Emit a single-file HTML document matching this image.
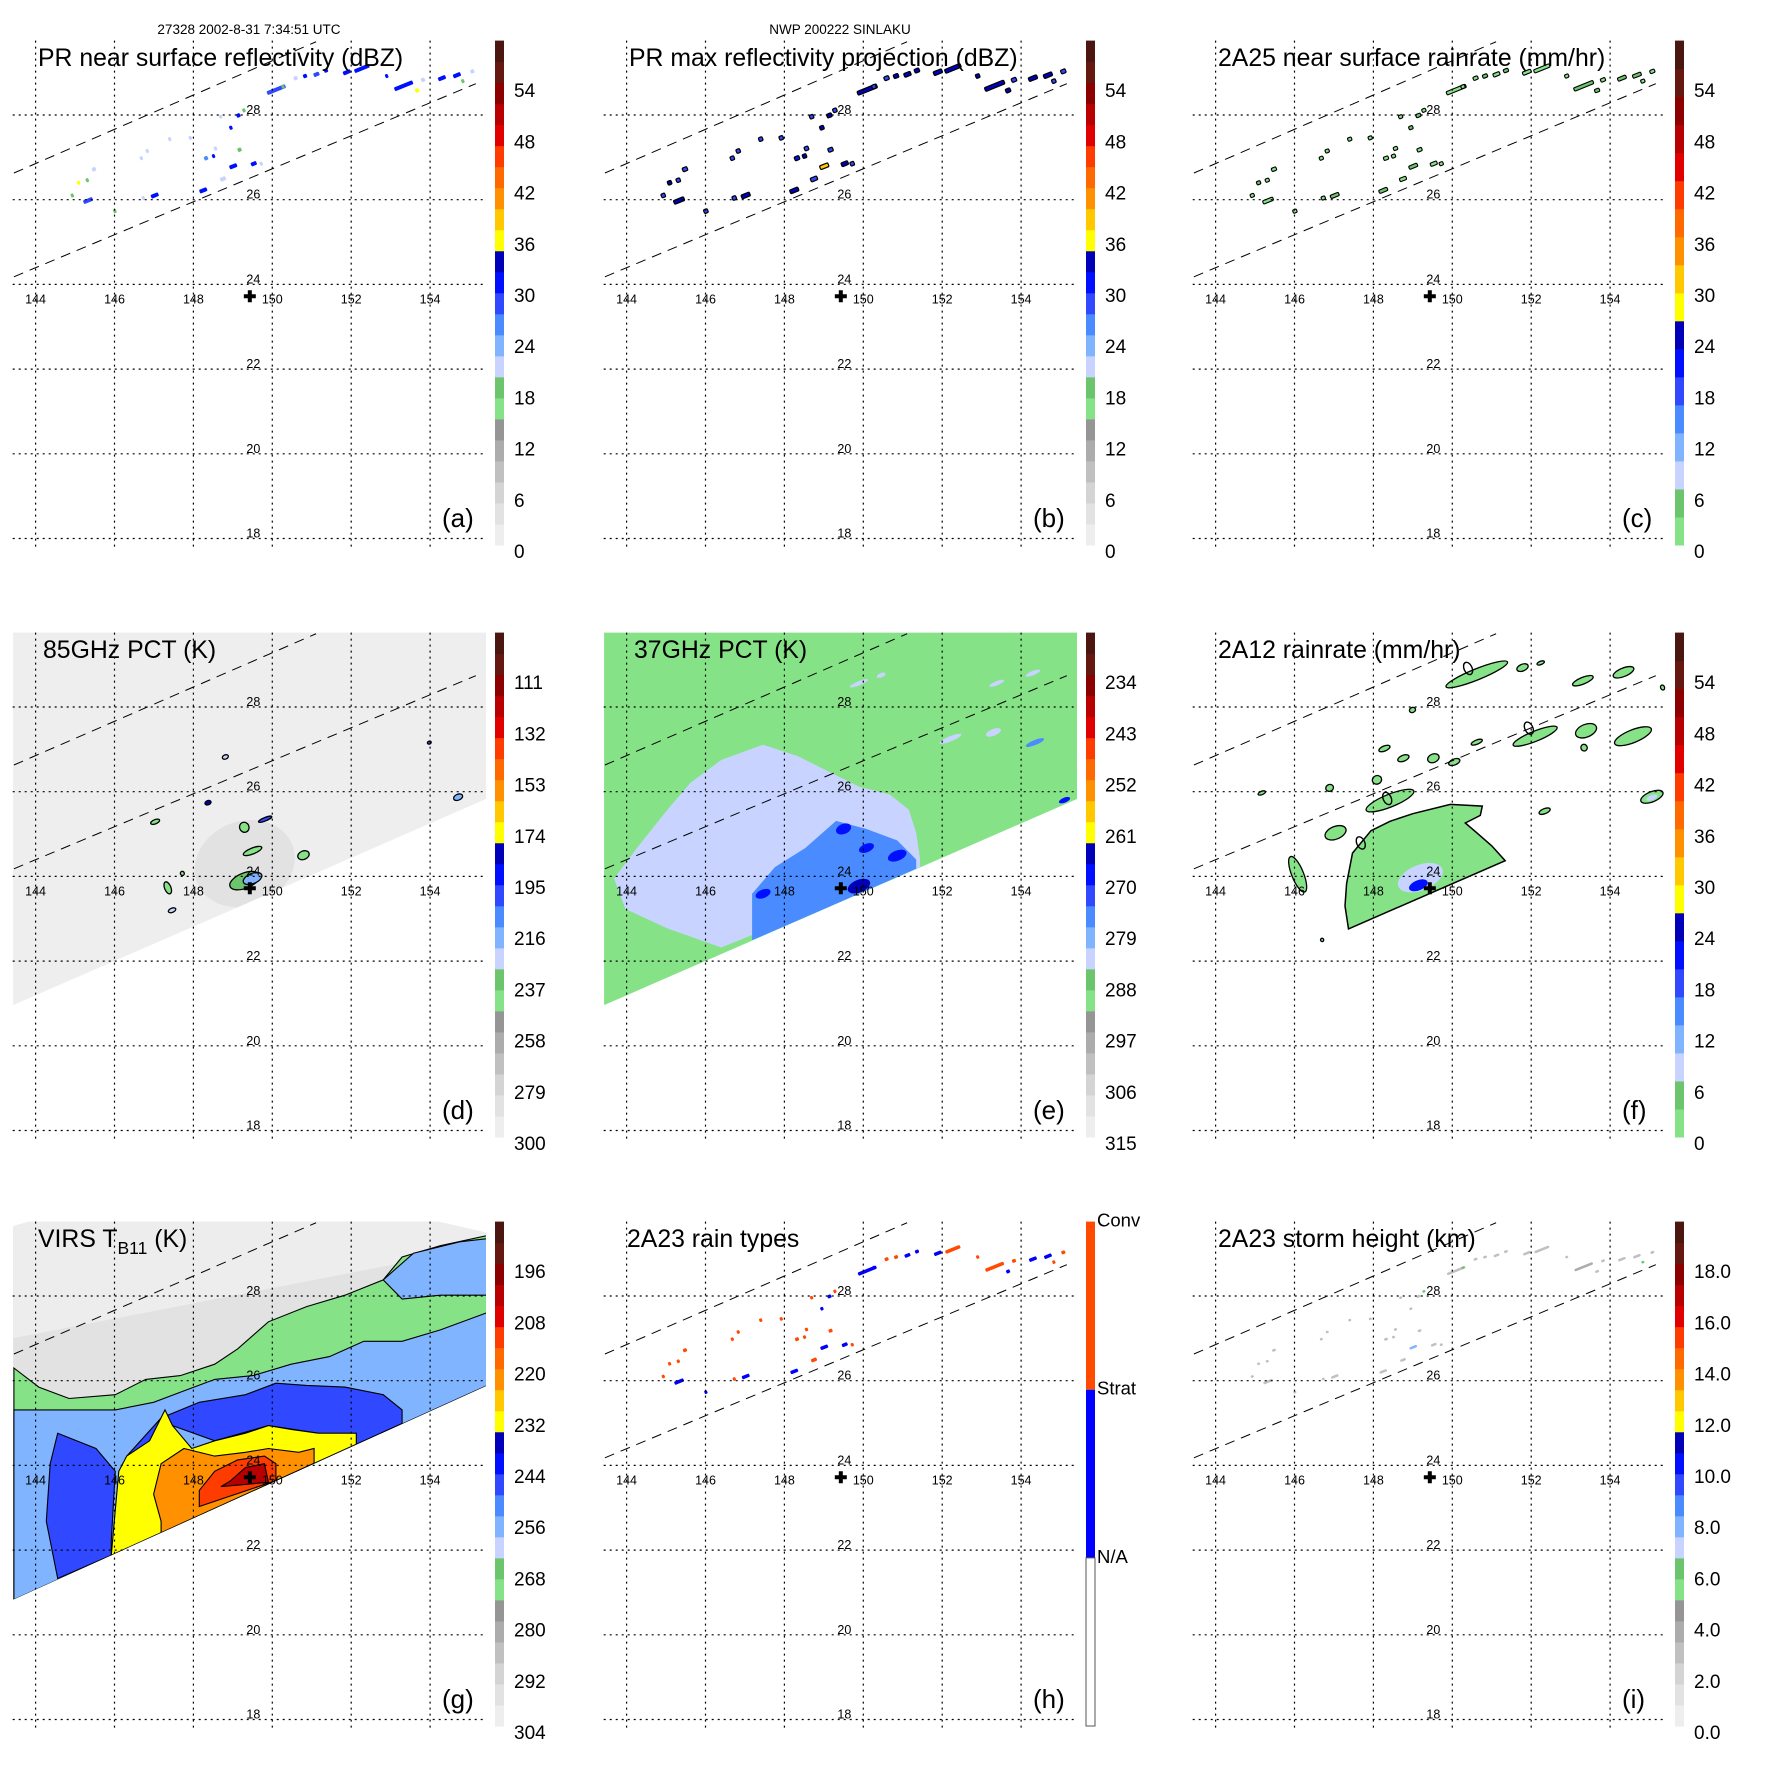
<!DOCTYPE html>
<html><head><meta charset="utf-8">
<style>
html,body{margin:0;padding:0;background:#fff;}
svg{display:block;font-family:"Liberation Sans",Arial,sans-serif;}
</style></head>
<body>
<svg id="fig" width="1771" height="1771" viewBox="0 0 1771 1771" xmlns="http://www.w3.org/2000/svg"></svg>
<script>
// ---------------- DATA ----------------
const lonTicks = [144,146,148,150,152,154];
const latTicks = [18,20,22,24,26,28];
const stormLon = 149.43, stormLat = 23.72;
const swathEdgeLines = [[143.45,26.63,151.11,29.73],[143.45,24.18,155.16,28.74]];
const cellLon = [145.33,145.09,144.93,145.48,145.31,146.01,147.02,146.73,146.83,146.68,147.40,147.92,148.25,148.32,148.56,148.51,148.75,149.01,149.17,148.95,149.14,148.69,149.28,149.53,149.72,150.10,150.27,150.59,150.83,151.12,151.36,151.89,152.27,152.90,153.33,153.67,153.82,154.30,154.68,154.83,155.07];
const cellLat = [25.98,26.40,26.10,26.72,26.46,25.73,26.10,26.04,27.15,26.98,27.43,27.46,26.22,26.98,27.21,27.03,26.49,26.79,27.18,27.70,27.99,27.96,28.11,26.85,26.85,28.60,28.67,28.87,28.92,28.96,29.05,29.01,29.10,28.92,28.69,28.58,28.83,28.87,28.94,28.80,29.03];
const cellLen = [.25,.05,.03,.1,.03,.03,.2,.05,.05,.03,.03,.05,.2,.1,.08,.05,.15,.2,.1,.08,.1,.05,.05,.15,.05,.5,.05,.1,.1,.15,.1,.2,.4,.05,.5,.1,.1,.2,.2,.05,.1];
const nearSurfDbz = [28,36,18,22,18,18,30,22,22,22,22,22,30,26,22,30,22,32,18,30,30,22,18,30,22,28,18,22,30,28,30,30,30,30,30,36,22,30,30,18,22];
const maxDbz = [33,34,28,28,28,28,33,28,28,28,28,28,33,32,28,33,28,38,28,33,33,28,28,33,28,33,28,28,33,33,33,33,33,33,34,33,28,33,33,28,28];
const rainRate = [3,6,1,1,1,1,4,1,1,1,1,1,4,2,1,3,1,5,1,4,4,1,1,3,1,3,1,1,4,3,4,3,3,3,4,6,1,4,4,1,1];
const rainType = ['S','C','C','C','C','S','S','C','C','C','C','C','S','C','C','C','C','S','C','S','S','C','C','S','C','S','S','C','C','S','S','S','C','C','C','S','C','S','S','C','C'];
const stormHeightKm = [3.0,3.0,2.5,2.5,2.5,2.5,3.0,2.5,2.5,2.5,2.5,2.5,3.0,3.0,2.5,3.0,2.5,7.5,2.5,3.0,3.0,2.5,6.0,3.0,2.5,3.0,6.0,2.5,3.0,3.0,2.5,3.0,3.0,3.0,3.5,3.0,2.5,3.0,3.0,6.0,2.5];
const ticksA = ['0','6','12','18','24','30','36','42','48','54'];
const ticksB = ticksA, ticksC = ticksA, ticksF = ticksA;
const ticksD = ['300','279','258','237','216','195','174','153','132','111'];
const ticksE = ['315','306','297','288','279','270','261','252','243','234'];
const ticksG = ['304','292','280','268','256','244','232','220','208','196'];
const ticksI = ['0.0','2.0','4.0','6.0','8.0','10.0','12.0','14.0','16.0','18.0'];
const swathDE = [[143.43,29.8],[155.6,29.8],[155.6,25.9],[143.43,20.96]];
const swathG = [[143.43,29.65],[144.0,29.8],[154.0,29.8],[155.6,29.46],[155.6,25.95],[143.43,20.83]];
const dBgK = 294;
const dBlobLon = [149.3,147.03,148.81,148.37,149.29,149.82,149.5,150.79,153.98,154.71,147.35,147.46,147.72,149.3,149.5];
const dBlobLat = [24.3,25.29,26.82,25.74,25.16,25.35,24.6,24.5,27.16,25.87,23.73,23.2,24.07,23.9,23.95];
const dBlobHL = [1.3,.12,.08,.08,.12,.18,.25,.15,.05,.12,.08,.1,.05,.4,.25];
const dBlobHH = [1.0,.05,.05,.05,.12,.04,.07,.1,.03,.07,.15,.05,.05,.18,.12];
const dBlobK = [285,240,230,180,240,200,240,240,200,215,240,225,245,235,215];
const eBgK = 289;
const eLightK = 282;
const eLightPoly = [[146.40,22.32],[145.04,22.77],[143.97,23.23],[143.68,23.95],[144.26,24.67],[145.04,25.58],[145.62,26.21],[146.40,26.75],[147.46,27.11],[148.34,26.84],[149.11,26.48],[149.89,26.12],[150.66,25.94],[151.15,25.58],[151.34,25.03],[151.44,24.40],[151.44,24.22]];
const eBlueK = 276;
const eBluePoly = [[147.18,23.59],[147.76,24.22],[148.53,24.67],[149.31,25.31],[150.08,25.12],[150.86,24.85],[151.34,24.40],[151.34,24.18],[147.18,22.49]];
const eSpotLon = [149.50,149.89,150.86,147.46,150.08,149.89,150.45,153.38,154.3,152.21,153.3,154.35,155.1];
const eSpotLat = [25.12,23.77,24.49,23.59,24.67,28.56,28.75,28.56,28.8,27.25,27.4,27.16,25.8];
const eSpotHL = [.2,.3,.25,.2,.2,.25,.12,.2,.2,.3,.2,.25,.15];
const eSpotHH = [.12,.15,.12,.1,.1,.05,.05,.05,.05,.06,.08,.06,.06];
const eSpotK = [268,266,268,270,270,282,282,282,282,282,282,277,268];
const fMainPoly = [[147.37,22.76],[147.28,23.30],[147.32,23.83],[147.47,24.55],[147.94,25.08],[148.42,25.30],[149.0,25.48],[149.95,25.70],[150.76,25.66],[150.71,25.44],[150.33,25.26],[150.62,25.03],[151.0,24.72],[151.34,24.37]];
const fMainRate = 3;
const fBlobLon = [150.62,151.78,152.24,153.31,154.34,155.33,152.10,153.39,154.58,153.34,150.62,149.52,150.05,148.76,148.28,148.09,146.89,148.42,147.04,146.08,155.06,152.34,145.17,148.99,146.7,149.19,149.14,155.06];
const fBlobLat = [28.77,28.93,29.04,28.62,28.82,28.46,27.31,27.44,27.31,27.04,27.17,26.79,26.70,26.79,27.02,26.28,26.09,25.79,25.03,24.05,25.88,25.54,25.97,27.93,22.5,23.97,23.79,25.86];
const fBlobHL = [.84,.15,.1,.28,.28,.05,.6,.28,.5,.08,.15,.15,.15,.15,.15,.12,.1,.65,.28,.15,.3,.15,.1,.08,.04,.6,.25,.15];
const fBlobHH = [.13,.08,.04,.08,.1,.06,.12,.15,.15,.08,.05,.1,.07,.07,.06,.1,.08,.15,.15,.45,.12,.06,.04,.06,.04,.3,.12,.06];
const fBlobRate = [3,3,3,3,3,3,3,3,3,3,3,3,3,3,3,3,3,3,3,3,3,3,3,3,3,10,22,10];
const fOvalLon = [150.40,151.94,148.35,147.68];
const fOvalLat = [28.91,27.50,25.84,24.79];
const gBgK = 295;
const gLayerK = [270,258,258,246,246,232,222,212,202];
const gLayerPts = [
 [[143.45,26.30],[144.08,25.85],[144.85,25.58],[146.02,25.67],[146.79,26.03],[147.67,26.12],[148.54,26.39],[149.12,26.75],[149.90,27.39],[150.87,27.75],[151.84,28.02],[152.81,28.38],[153.29,28.92],[154.26,29.19],[155.6,29.46],[155.6,25.95],[143.45,20.83]],
 [[143.45,25.31],[144.27,25.31],[146.02,25.31],[146.99,25.49],[147.76,25.76],[148.54,26.03],[149.51,26.12],[150.48,26.39],[151.45,26.57],[152.32,26.93],[153.29,26.93],[154.26,27.20],[155.6,27.66],[155.6,25.95],[143.45,20.83]],
 [[152.81,28.38],[153.58,29.01],[154.75,29.28],[155.6,29.37],[155.6,28.02],[154.26,28.02],[153.29,27.93]],
 [[144.56,24.76],[145.53,24.40],[146.02,23.86],[145.92,22.23],[145.92,21.88],[144.56,21.33],[144.27,22.68],[144.37,24.04]],
 [[146.31,24.22],[147.18,25.12],[148.15,25.49],[149.32,25.67],[150.09,25.94],[150.87,25.89],[151.84,25.85],[152.81,25.67],[153.29,25.31],[153.29,24.99],[152.13,24.50],[151.16,24.76],[149.90,24.94],[148.54,24.58],[147.47,24.94],[146.79,24.22],[146.31,23.86]],
 [[145.92,21.88],[146.02,22.95],[146.11,23.86],[146.31,24.22],[146.89,24.58],[147.28,25.31],[147.47,24.94],[147.96,24.40],[148.54,24.58],[149.32,24.76],[149.90,24.94],[150.48,24.85],[151.16,24.76],[152.13,24.76],[152.13,24.50]],
 [[147.18,22.41],[147.18,22.68],[146.99,23.32],[147.18,24.04],[147.76,24.40],[148.54,24.22],[149.32,24.31],[149.90,24.40],[150.67,24.31],[151.06,24.40],[151.06,24.05]],
 [[148.15,23.03],[148.15,23.41],[148.54,23.86],[149.12,24.13],[149.80,24.22],[150.09,24.04],[150.09,23.64]],
 [[148.70,23.50],[148.93,23.63],[149.32,23.95],[149.80,24.04],[149.90,23.60]]
];

// ---------------- HELPERS ----------------
const NS = 'http://www.w3.org/2000/svg';
const svg = document.getElementById('fig');
const X = lon => 35.6 + (lon-144)*39.45;
const Y = lat => 115 + (28-lat)*42.35;
const PX0 = 12.7, PX1 = 486, PY0 = 40.6, PY1 = 550;
const bandsA = [['#eeeeee','#e2e2e2'],['#d4d4d4','#c0c0c0'],['#acacac','#959595'],['#86e286','#6cc46c'],['#c8d4ff','#80b4ff'],['#4a8cff','#3048ff'],['#0010ff','#0000b8'],['#ffff00','#ffc800'],['#ff9000','#ff6a00'],['#ff3c00','#e00000'],['#b80000','#8c0000'],['#641810','#4b1510']];
const bandsC = [['#86e286','#6cc46c'],['#c8d4ff','#80b4ff'],['#4a8cff','#3048ff'],['#0010ff','#0000b8'],['#ffff00','#ffc800'],['#ff9000','#ff6a00'],['#ff3c00','#e00000'],['#b80000','#8c0000'],['#641810','#4b1510']];
function colorFrom(bands, v){
  const w = 60/bands.length;
  let b = Math.floor(v/w); b = Math.max(0, Math.min(bands.length-1, b));
  const s = ((v - b*w) >= w/2) ? 1 : 0;
  return bands[b][s];
}
const cA = v => colorFrom(bandsA, v);
const cC = v => colorFrom(bandsC, v);
const kD = K => (300-K)*54/189;
const kE = K => (315-K)*54/81;
const kG = K => (304-K)*54/108;
function el(tag, attrs, parent){
  const e = document.createElementNS(NS, tag);
  for (const k in attrs) e.setAttribute(k, attrs[k]);
  (parent||svg).appendChild(e); return e;
}
function polyPath(pts){ return 'M' + pts.map(p => X(p[0]).toFixed(1)+','+Y(p[1]).toFixed(1)).join('L') + 'Z'; }
function blob(g, lon, lat, hl, hh, fill, stroke, name){
  const e = el('ellipse', {cx:X(lon), cy:Y(lat), rx:Math.max(hl*39.45,1.5), ry:Math.max(hh*42.35,1.5), fill:fill, stroke:stroke||'none', 'stroke-width':1.3, transform:`rotate(-22 ${X(lon)} ${Y(lat)})`}, g);
  
  
  return e;
}

const colOff = [0, 591, 1180], rowOff = [0, 592, 1181];
let clipId = 0;

function makePanel(col, row, key, title, letter, ticks, bandsType){
  const g = el('g', {transform:`translate(${colOff[col]},${rowOff[row]})`});
  
  
  const cid = 'clip' + (clipId++);
  const cp = el('clipPath', {id:cid}, g);
  el('rect', {x:PX0, y:PY0, width:PX1-PX0, height:PY1-PY0}, cp);
  const data = el('g', {'clip-path':`url(#${cid})`}, g);
  
  
  const over = el('g', {'clip-path':`url(#${cid})`}, g);
  return {g, data, over, key, title, letter, ticks, bandsType};
}

function finishPanel(P, opts){
  const {g, over} = P;
  opts = opts || {};
  if (!opts.noDash){
    const dl = el('g', {}, over);
    
    
    swathEdgeLines.forEach(l => {
      el('line', {x1:X(l[0]), y1:Y(l[1]), x2:X(l[2]), y2:Y(l[3]), stroke:'#000', 'stroke-width':1, 'stroke-dasharray':'10,7'}, dl);
    });
  }
  const grid = el('g', {}, g);
  
  
  lonTicks.forEach(lon => el('line', {x1:X(lon), y1:PY0, x2:X(lon), y2:PY1, stroke:'#000', 'stroke-width':1.2, 'stroke-dasharray':'2,4'}, grid));
  latTicks.forEach(lat => el('line', {x1:PX0, y1:Y(lat), x2:PX1, y2:Y(lat), stroke:'#000', 'stroke-width':1.2, 'stroke-dasharray':'2,4'}, grid));
  latTicks.forEach(lat => {
    const t = el('text', {x:X(150)-12, y:Y(lat)-1, 'font-size':12.5, 'text-anchor':'end', fill:'#000'}, grid);
    t.textContent = String(lat);
    
    
  });
  lonTicks.forEach(lon => {
    const t = el('text', {x:X(lon), y:Y(24)+19, 'font-size':12.5, 'text-anchor':'middle', fill:'#000'}, grid);
    t.textContent = String(lon);
    
    
  });
  const sx = X(stormLon), sy = Y(stormLat);
  const plus = el('path', {d:`M${sx-6},${sy-2}h4v-4h4v4h4v4h-4v4h-4v-4h-4z`, fill:'#000'}, g);
  
  
  const tt = el('text', {x:opts.tx||38, y:66, 'font-size':24.8, fill:'#000'}, g);
  
  
  if (opts.sub){
    tt.textContent = P.title;
    const ts = el('tspan', {'font-size':17.5, dy:7}, tt); ts.textContent = opts.sub;
    const tr = el('tspan', {dy:-7}, tt); tr.textContent = ' (K)';
  } else tt.textContent = P.title;
  const lt = el('text', {x:442, y:527, 'font-size':26, fill:'#000'}, g);
  lt.textContent = P.letter;
  
  
  const cb = el('g', {}, g);
  
  
  const bx = 495, bw = 9, by0 = 40.6, by1 = 545;
  if (P.bandsType === 'H'){
    const h3 = (by1-by0)/3;
    el('rect', {x:bx, y:by0, width:bw, height:h3, fill:'#ff4a00'}, cb);
    el('rect', {x:bx, y:by0+h3, width:bw, height:h3, fill:'#0000ff'}, cb);
    el('rect', {x:bx, y:by0+2*h3, width:bw, height:h3, fill:'#fff', stroke:'#555', 'stroke-width':1}, cb);
    ['Conv','Strat','N/A'].forEach((s,i) => {
      const t = el('text', {x:bx+bw+2, y:by0+i*h3+5, 'font-size':18.5, fill:'#000'}, cb);
      t.textContent = s;
      
      
    });
  } else {
    const bands = P.bandsType === 'C' ? bandsC : bandsA;
    const n = bands.length*2, h = (by1-by0)/n;
    for (let i=0;i<n;i++){
      const c = bands[Math.floor(i/2)][i%2];
      el('rect', {x:bx, y:by1-(i+1)*h, width:bw, height:h+0.5, fill:c}, cb);
    }
    P.ticks.forEach((s,i) => {
      const yy = 551 - i*51.2;
      const t = el('text', {x:514, y:yy+7, 'font-size':19, fill:'#000'}, cb);
      t.textContent = s;
      
      
    });
  }
}

function drawCells(P, vals, mode){
  const grp = el('g', {}, P.data);
  
  
  for (let i=0;i<cellLon.length;i++){
    const cx = X(cellLon[i]), cy = Y(cellLat[i]);
    let w = Math.max(cellLen[i]*39.45, 3), h = 4, fill, stroke='none', sw=0;
    if (mode==='a'){ fill = cA(vals[i]); }
    else if (mode==='b'){ fill = cA(vals[i]); stroke='#000'; sw=1.2; w+=1; h=4; }
    else if (mode==='c'){ fill = cC(vals[i]); stroke='#000'; sw=1.1; w+=1; h=3.5; }
    else if (mode==='h'){ fill = vals[i]==='C' ? '#ff4a00' : '#0000ff'; h=3.5; }
    else if (mode==='i'){ fill = cA(vals[i]*3); h=2.5; }
    const r = el('rect', {x:cx-w/2, y:cy-h/2, width:w, height:h, rx:1.2, fill:fill, stroke:stroke, 'stroke-width':sw, transform:`rotate(-22 ${cx} ${cy})`}, grp);
    
    
  }
}

// ---------------- PANELS ----------------
let P = makePanel(0,0,'a','PR near surface reflectivity (dBZ)','(a)',ticksA,'A');
drawCells(P, nearSurfDbz, 'a');
finishPanel(P);
let hdr = el('text', {x:249, y:34, 'font-size':13.5, 'text-anchor':'middle', fill:'#000'});
hdr.textContent = '27328 2002-8-31 7:34:51 UTC';



P = makePanel(1,0,'b','PR max reflectivity projection (dBZ)','(b)',ticksB,'A');
drawCells(P, maxDbz, 'b');
finishPanel(P);
hdr = el('text', {x:591+249, y:34, 'font-size':13.5, 'text-anchor':'middle', fill:'#000'});
hdr.textContent = 'NWP 200222 SINLAKU';



P = makePanel(2,0,'c','2A25 near surface rainrate (mm/hr)','(c)',ticksC,'C');
drawCells(P, rainRate, 'c');
finishPanel(P);

P = makePanel(0,1,'d','85GHz PCT (K)','(d)',ticksD,'A');
{
  const s = el('path', {d:polyPath(swathDE), fill:cA(kD(dBgK))}, P.data);
  
  
  const cp = el('clipPath', {id:'swd'}, P.data); el('path', {d:polyPath(swathDE)}, cp);
  const gg = el('g', {'clip-path':'url(#swd)'}, P.data);
  for (let i=0;i<dBlobLon.length;i++){
    blob(gg, dBlobLon[i], dBlobLat[i], dBlobHL[i], dBlobHH[i], cA(kD(dBlobK[i])), i===0 ? 'none' : '#000', 'pct85-feature');
  }
}
finishPanel(P, {tx:43});

P = makePanel(1,1,'e','37GHz PCT (K)','(e)',ticksE,'A');
{
  const s = el('path', {d:polyPath(swathDE), fill:cA(kE(eBgK))}, P.data);
  
  
  const l = el('path', {d:polyPath(eLightPoly), fill:cA(kE(eLightK))}, P.data);
  
  
  const b = el('path', {d:polyPath(eBluePoly), fill:cA(kE(eBlueK))}, P.data);
  
  
  const cp = el('clipPath', {id:'swe'}, P.data); el('path', {d:polyPath(swathDE)}, cp);
  const gg = el('g', {'clip-path':'url(#swe)'}, P.data);
  for (let i=0;i<eSpotLon.length;i++) blob(gg, eSpotLon[i], eSpotLat[i], eSpotHL[i], eSpotHH[i], cA(kE(eSpotK[i])), 'none', 'pct37-feature');
}
finishPanel(P, {tx:43});

P = makePanel(2,1,'f','2A12 rainrate (mm/hr)','(f)',ticksF,'C');
{
  const m = el('path', {d:polyPath(fMainPoly), fill:cC(fMainRate), stroke:'#000', 'stroke-width':1.5}, P.data);
  
  
  for (let i=0;i<fBlobLon.length;i++){
    blob(P.data, fBlobLon[i], fBlobLat[i], fBlobHL[i], fBlobHH[i], cC(fBlobRate[i]), fBlobRate[i]>5 ? 'none' : '#000', 'rain-area');
  }
  for (let i=0;i<fOvalLon.length;i++){
    const o = el('ellipse', {cx:X(fOvalLon[i]), cy:Y(fOvalLat[i]), rx:4, ry:6.5, fill:'none', stroke:'#000', 'stroke-width':1.4, transform:`rotate(-25 ${X(fOvalLon[i])} ${Y(fOvalLat[i])})`}, P.data);
    
    
  }
}
finishPanel(P);

P = makePanel(0,2,'g','VIRS T','(g)',ticksG,'A');
{
  const s = el('path', {d:polyPath(swathG), fill:cA(kG(gBgK))}, P.data);
  
  
  const top = el('path', {d:polyPath([[143.43,29.65],[144.0,29.8],[154.0,29.8],[155.6,29.46],[155.6,29.2],[143.43,27.0]]), fill:'#ededed'}, P.data);
  
  
  swathEdgeLines.forEach(l => el('line', {x1:X(l[0]), y1:Y(l[1]), x2:X(l[2]), y2:Y(l[3]), stroke:'#000', 'stroke-width':1, 'stroke-dasharray':'10,7'}, P.data));
  const cp = el('clipPath', {id:'swg'}, P.data); el('path', {d:polyPath(swathG)}, cp);
  const gg = el('g', {'clip-path':'url(#swg)'}, P.data);
  for (let i=0;i<gLayerPts.length;i++){
    const p = el('path', {d:polyPath(gLayerPts[i]), fill:cA(kG(gLayerK[i])), stroke:'#000', 'stroke-width':1.1}, gg);
    
    
  }
}
finishPanel(P, {sub:'B11', noDash:true});

P = makePanel(1,2,'h','2A23 rain types','(h)',null,'H');
drawCells(P, rainType, 'h');
finishPanel(P, {tx:36});

P = makePanel(2,2,'i','2A23 storm height (km)','(i)',ticksI,'A');
drawCells(P, stormHeightKm, 'i');
finishPanel(P);
</script>
</body></html>
